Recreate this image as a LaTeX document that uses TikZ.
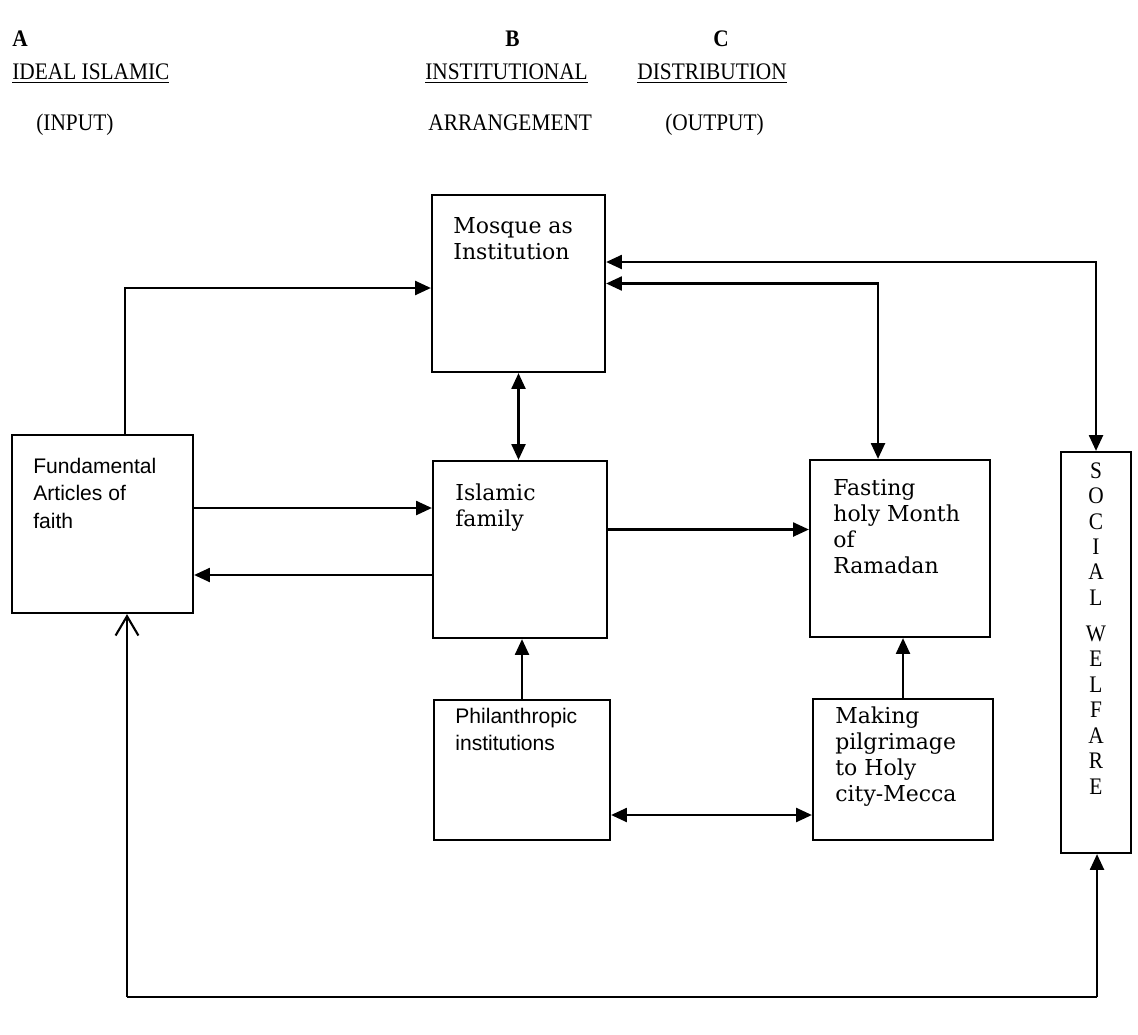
\documentclass[tikz,border=0pt]{standalone}
\usepackage{fontspec}
\setmainfont{Liberation Serif}
\newfontfamily\headfont[FakeStretch=0.9]{Liberation Serif}
\newfontfamily\boxfont{DejaVu Serif}
\newfontfamily\smallfont{Liberation Sans}
\usetikzlibrary{positioning, arrows.meta}

\begin{document}
\begin{tikzpicture}[
        x=0.02cm, y=-0.02cm,
        box/.style={draw, rectangle, line width=1.3pt, inner sep=0pt},
        boxtext/.style={anchor=north west, align=left, inner sep=0pt, font=\boxfont\fontsize{12.5}{14.8}\selectfont},
        smalltext/.style={anchor=north west, align=left, inner sep=0pt, font=\smallfont\fontsize{12}{15.5}\selectfont},
        head/.style={anchor=base west, inner sep=0pt, font=\headfont\fontsize{13.5}{16}\selectfont},
        arrow/.style={-{Triangle[length=9pt, width=8pt]}, line width=1.2pt},
        dblarrow/.style={{Triangle[length=9pt, width=8pt]}-{Triangle[length=9pt, width=8pt]}, line width=1.2pt},
        openarrow/.style={-{Straight Barb[length=11pt, width=13pt]}, line width=1.2pt}
    ]
        \useasboundingbox (0,0) rectangle (1138,1034);

        % column heads
        \node[head, font=\headfont\fontsize{13.5}{16}\selectfont\bfseries] (head_a) at (12, 47) {A};
        \node[head] (head_ideal) at (12, 80) {\underline{IDEAL ISLAMIC}};
        \node[head] (head_input) at (36, 131) {(INPUT)};

        \node[head, font=\headfont\fontsize{13.5}{16}\selectfont\bfseries] (head_b) at (505, 47) {B};
        \node[head] (head_inst) at (425, 80) {\underline{INSTITUTIONAL}};
        \node[head] (head_arr) at (428, 131) {ARRANGEMENT};

        \node[head, font=\headfont\fontsize{13.5}{16}\selectfont\bfseries] (head_c) at (713, 47) {C};
        \node[head] (head_dist) at (637, 80) {\underline{DISTRIBUTION}};
        \node[head] (head_output) at (665, 131) {(OUTPUT)};

        % boxes
        \node[box, minimum width=3.46cm, minimum height=3.54cm] (mosque_box) at (518.5, 283.5) {};
        \node[box, minimum width=3.48cm, minimum height=3.54cm] (family_box) at (520, 549.5) {};
        \node[box, minimum width=3.6cm, minimum height=3.54cm] (fasting_box) at (900, 548.5) {};
        \node[box, minimum width=3.62cm, minimum height=3.56cm] (faith_box) at (102.5, 524) {};
        \node[box, minimum width=3.52cm, minimum height=2.8cm] (phil_box) at (522, 770) {};
        \node[box, minimum width=3.6cm, minimum height=2.82cm] (hajj_box) at (903, 769.5) {};
        \node[box, minimum width=1.4cm, minimum height=8.02cm] (welfare_box) at (1096, 652.5) {};

        % box texts
        \node[boxtext] (mosque_txt) at (453, 217) {Mosque as\\Institution};
        \node[boxtext] (family_txt) at (455, 483) {Islamic\\family};
        \node[boxtext] (fasting_txt) at (833, 479) {Fasting\\holy Month\\of\\Ramadan};
        \node[boxtext] (hajj_txt) at (835, 706) {Making\\pilgrimage\\to Holy\\city-Mecca};
        \node[smalltext] (faith_txt) at (33, 458) {Fundamental\\Articles of\\faith};
        \node[smalltext] (phil_txt) at (455, 708) {Philanthropic\\institutions};
        \node[anchor=north, inner sep=0pt, align=center, font=\headfont\fontsize{13.5}{14.5}\selectfont] (welfare_txt) at (1096, 462)
            {S\\O\\C\\I\\A\\L\\[6pt]W\\E\\L\\F\\A\\R\\E};

        % connectors
        \coordinate (loop_r) at (1097, 997);
        \coordinate (loop_l) at (127, 997);

        \draw[arrow] ([xshift=0.45cm]faith_box.north) |- ([yshift=-0.09cm]mosque_box.west);
        \draw[arrow] ([yshift=0.32cm]faith_box.east) -- ([yshift=0.32cm]faith_box.east -| family_box.west);
        \draw[arrow] ([yshift=-0.51cm]family_box.west) -- ([yshift=-0.51cm]family_box.west -| faith_box.east);
        \draw[arrow] ([yshift=0.4cm]family_box.east) -- ([yshift=0.4cm]family_box.east -| fasting_box.west);

        \draw[dblarrow] (mosque_box.south) -- (mosque_box.south |- family_box.north);
        \draw[dblarrow] ([yshift=0.43cm]mosque_box.east) -| (welfare_box.north);
        \draw[dblarrow] (mosque_box.east) -| ([xshift=-0.44cm]fasting_box.north);

        \draw[arrow] (phil_box.north) -- (phil_box.north |- family_box.south);
        \draw[arrow] (hajj_box.north) -- (hajj_box.north |- fasting_box.south);
        \draw[dblarrow] ([yshift=-0.9cm]phil_box.east) -- ([yshift=-0.9cm]phil_box.east -| hajj_box.west);

        \draw[arrow] (loop_r) -- (loop_r |- welfare_box.south);
        \draw[line width=1.2pt] (loop_r) -- (loop_l);
        \draw[openarrow] (loop_l) -- (loop_l |- faith_box.south);

    \end{tikzpicture}
\end{document}
